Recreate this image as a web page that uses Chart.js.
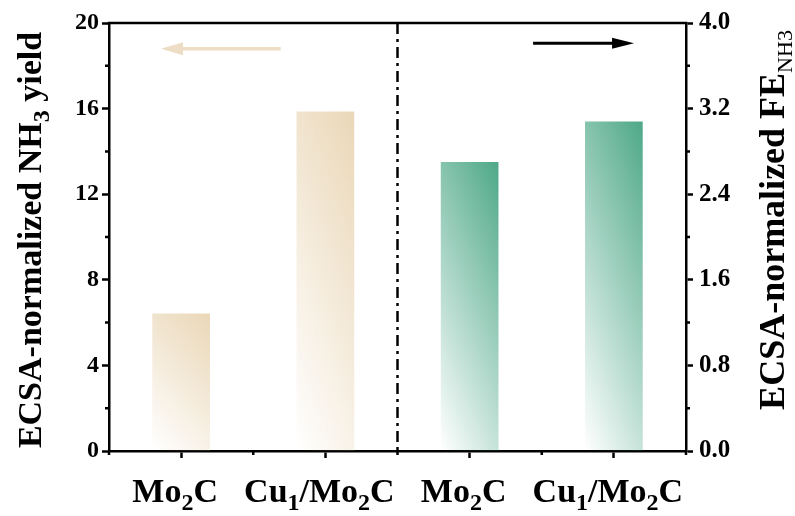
<!DOCTYPE html>
<html lang="en">

<head>
  <meta charset="UTF-8">
  <title>ECSA-normalized NH3</title>
  <script src="https://cdn.jsdelivr.net/npm/chart.js"></script>
  <style>
    body { margin: 0; background: #fff; }
    .box { width: 795px; height: 516px; }
  </style>
</head>

<body>
  <div class="box">
    <canvas id="grafico" width="795" height="516"></canvas>
  </div>

  <script>
    // categorias (digitos em subscrito no desenho)
    const categorias = ['Mo_{2}C', 'Cu_{1}/Mo_{2}C', 'Mo_{2}C', 'Cu_{1}/Mo_{2}C'];
    // eixo esquerdo: rendimento de NH3 normalizado pela ECSA
    const rendimento = [6.42, 15.87, null, null];
    // eixo direito: FE de NH3 normalizada pela ECSA
    const eficiencia = [null, null, 2.70, 3.08];
    const ticksEsq = [0, 4, 8, 12, 16, 20];
    const ticksDir = [0.0, 0.8, 1.6, 2.4, 3.2, 4.0];
    const tituloEsq = 'ECSA-normalized NH_{3} yield';
    const tituloDir = 'ECSA-normalized FE_{NH3}';

    const FONTE = '"Liberation Serif", "Times New Roman", serif';
    const BEGE = [234, 215, 183];
    const VERDE = [78, 168, 136];

    // texto com trechos _{...} em subscrito
    function partes(txt) {
      const out = [];
      const re = /_\{([^}]*)\}/g;
      let last = 0, m;
      while ((m = re.exec(txt)) !== null) {
        if (m.index > last) out.push({ t: txt.slice(last, m.index), sub: false });
        out.push({ t: m[1], sub: true });
        last = re.lastIndex;
      }
      if (last < txt.length) out.push({ t: txt.slice(last), sub: false });
      return out;
    }

    function textoRico(ctx, txt, x, y, size, opt = {}) {
      const subSize = Math.round(size * (opt.subScale || 0.68));
      const subPeso = opt.subPeso || 'bold';
      const desce = opt.desce || size * 0.24;
      const segs = partes(txt);
      let total = 0;
      segs.forEach(s => {
        ctx.font = s.sub ? `${subPeso} ${subSize}px ${FONTE}` : `bold ${size}px ${FONTE}`;
        s.w = ctx.measureText(s.t).width;
        total += s.w;
      });
      let cx = x - total / 2;
      ctx.textAlign = 'left';
      ctx.textBaseline = 'alphabetic';
      segs.forEach(s => {
        ctx.font = s.sub ? `${subPeso} ${subSize}px ${FONTE}` : `bold ${size}px ${FONTE}`;
        ctx.fillText(s.t, cx, s.sub ? y + desce : y);
        cx += s.w;
      });
    }

    // degrade diagonal: branco embaixo/esquerda, cor cheia no canto superior direito
    function degrade(context, rgb) {
      const chart = context.chart;
      if (!chart.chartArea || context.type !== 'data' || context.raw == null) return 'rgba(0,0,0,0)';
      const meta = chart.getDatasetMeta(context.datasetIndex);
      const xs = chart.scales.x;
      const ys = chart.scales[meta.yAxisID];
      const larg = xs.width / categorias.length * 0.4;
      const x0 = xs.getPixelForValue(context.dataIndex) - larg / 2;
      const base = ys.getPixelForValue(0);
      const alt = Math.max(1, base - ys.getPixelForValue(context.raw));
      const a = 0.32, b = 0.68;
      const gx = a / larg, gy = -b / alt;
      const n2 = gx * gx + gy * gy;
      const g = chart.ctx.createLinearGradient(x0, base, x0 + gx / n2, base + gy / n2);
      const c = rgb.join(',');
      g.addColorStop(0, `rgba(${c},0)`);
      g.addColorStop(0.5, `rgba(${c},0.5)`);
      g.addColorStop(1, `rgba(${c},1)`);
      return g;
    }

    function seta(ctx, x1, y, x2, cor, lw, cab, meia) {
      const dir = Math.sign(x2 - x1);
      ctx.strokeStyle = cor;
      ctx.fillStyle = cor;
      ctx.lineWidth = lw;
      ctx.beginPath();
      ctx.moveTo(x1, y);
      ctx.lineTo(x2 - dir * cab * 0.8, y);
      ctx.stroke();
      ctx.beginPath();
      ctx.moveTo(x2, y);
      ctx.lineTo(x2 - dir * cab, y - meia);
      ctx.lineTo(x2 - dir * cab, y + meia);
      ctx.closePath();
      ctx.fill();
    }

    const enfeites = {
      id: 'enfeites',
      afterDraw(chart) {
        const ctx = chart.ctx;
        const area = chart.chartArea;
        const xs = chart.scales.x, ys = chart.scales.y, ys1 = chart.scales.y1;
        ctx.save();
        ctx.strokeStyle = '#000';
        ctx.fillStyle = '#000';
        ctx.lineWidth = 2.5;

        // linha de cima da moldura
        ctx.beginPath();
        ctx.moveTo(area.left - 1.25, area.top);
        ctx.lineTo(area.right + 1.25, area.top);
        ctx.stroke();

        // ticks menores
        ctx.beginPath();
        for (let i = 0; i < ticksEsq.length - 1; i++) {
          const py = ys.getPixelForValue((ticksEsq[i] + ticksEsq[i + 1]) / 2);
          ctx.moveTo(area.left, py); ctx.lineTo(area.left - 4, py);
        }
        for (let i = 0; i < ticksDir.length - 1; i++) {
          const py = ys1.getPixelForValue((ticksDir[i] + ticksDir[i + 1]) / 2);
          ctx.moveTo(area.right, py); ctx.lineTo(area.right + 4, py);
        }
        for (let i = 0; i <= categorias.length; i++) {
          const px = xs.getPixelForValue(i - 0.5);
          ctx.moveTo(px, area.bottom); ctx.lineTo(px, area.bottom + 4);
        }
        ctx.stroke();

        // divisoria traco-ponto entre os dois grupos
        const meio = xs.getPixelForValue(1.5);
        ctx.setLineDash([11, 5, 3, 5]);
        ctx.beginPath();
        ctx.moveTo(meio, area.top);
        ctx.lineTo(meio, area.bottom);
        ctx.stroke();
        ctx.setLineDash([]);

        // setas indicando o eixo de cada grupo
        seta(ctx, xs.getPixelForValue(0.69), ys.getPixelForValue(18.8), xs.getPixelForValue(-0.14),
          'rgb(236,221,196)', 3.5, 22, 6.5);
        seta(ctx, xs.getPixelForValue(2.44), ys1.getPixelForValue(3.81), xs.getPixelForValue(3.14),
          '#000', 3, 22, 5.5);

        // rotulos das categorias
        ctx.fillStyle = '#000';
        categorias.forEach((c, i) => {
          textoRico(ctx, c, xs.getPixelForValue(i) - 6, 502, 34, { subScale: 0.7, desce: 8 });
        });

        // titulos dos eixos
        ctx.save();
        ctx.translate(41, 240);
        ctx.rotate(-Math.PI / 2);
        textoRico(ctx, tituloEsq, 0, 0, 34, { subScale: 0.7, desce: 8 });
        ctx.restore();

        ctx.save();
        ctx.translate(784, 220);
        ctx.rotate(-Math.PI / 2);
        textoRico(ctx, tituloDir, 0, 0, 36, { subScale: 0.62, desce: 8, subPeso: 'normal' });
        ctx.restore();

        ctx.restore();
      }
    };

    const eixoComum = {
      grid: { drawOnChartArea: false, tickLength: 7, tickWidth: 2.5, tickColor: '#000' },
      border: { display: true, color: '#000', width: 2.5 }
    };

    new Chart(document.getElementById('grafico'), {
      type: 'bar',
      data: {
        labels: categorias,
        datasets: [
          {
            label: 'NH3 yield',
            data: rendimento,
            yAxisID: 'y',
            backgroundColor: ctx => degrade(ctx, BEGE),
            barPercentage: 0.4,
            categoryPercentage: 1,
            grouped: false
          },
          {
            label: 'FE NH3',
            data: eficiencia,
            yAxisID: 'y1',
            backgroundColor: ctx => degrade(ctx, VERDE),
            barPercentage: 0.4,
            categoryPercentage: 1,
            grouped: false
          }
        ]
      },
      options: {
        responsive: false,
        animation: false,
        devicePixelRatio: 1,
        layout: { padding: { top: 23, left: 0, right: 0, bottom: 0 } },
        plugins: {
          legend: { display: false },
          tooltip: { enabled: false }
        },
        scales: {
          x: {
            ...eixoComum,
            grid: { ...eixoComum.grid, offset: false },
            ticks: { display: false },
            afterFit: s => { s.height = 65; }
          },
          y: {
            ...eixoComum,
            position: 'left',
            min: ticksEsq[0],
            max: ticksEsq[ticksEsq.length - 1],
            afterBuildTicks: s => { s.ticks = ticksEsq.map(v => ({ value: v })); },
            ticks: {
              color: '#000',
              padding: 3,
              font: { family: FONTE, size: 24, weight: 'bold' }
            },
            afterFit: s => { s.width = 109; }
          },
          y1: {
            ...eixoComum,
            position: 'right',
            min: ticksDir[0],
            max: ticksDir[ticksDir.length - 1],
            afterBuildTicks: s => { s.ticks = ticksDir.map(v => ({ value: v })); },
            ticks: {
              color: '#000',
              padding: 6,
              font: { family: FONTE, size: 25, weight: 'bold' },
              callback: v => Number(v).toFixed(1)
            },
            afterFit: s => { s.width = 109; }
          }
        }
      },
      plugins: [enfeites]
    });
  </script>

</body>

</html>
